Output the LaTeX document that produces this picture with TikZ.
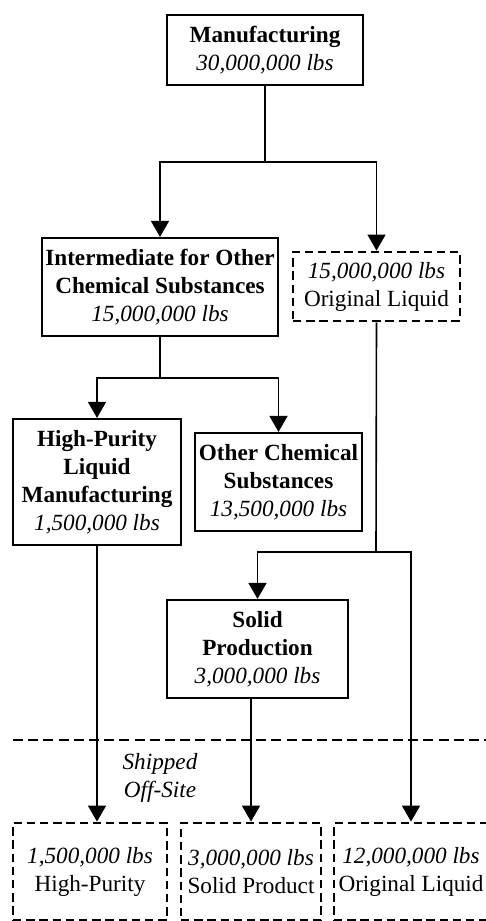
\documentclass[tikz,border=0pt]{standalone}
\usepackage{fontspec}
\setmainfont{Liberation Serif}
\usepackage{tikz}
\usetikzlibrary{arrows.meta,calc}

\begin{document}
\begin{tikzpicture}[x=0.5pt, y=-0.5pt,
    box/.style={draw, line width=1.1pt, align=center, inner sep=0pt,
      font=\fontsize{11.6}{14}\selectfont},
    dbox/.style={box, line width=1.4pt, dash pattern=on 4.2pt off 2.4pt},
    flow/.style={-{Triangle[width=9pt,length=8pt]}, line width=0.8pt},
    link/.style={line width=0.8pt}]
    \useasboundingbox (0,0) rectangle (486,921);
    % rows of the flow
    \node[box, minimum width=98pt, minimum height=35pt] (mfg) at (265,50) {\textbf{Manufacturing}\\\textit{30,000,000 lbs}};
    \node[box, minimum width=118pt, minimum height=49pt] (inter) at (160,287) {\textbf{Intermediate for Other}\\\textbf{Chemical Substances}\\\textit{15,000,000 lbs}};
    \node[dbox, minimum width=83.5pt, minimum height=34.5pt] (origliq) at (376.5,286.5) {\textit{15,000,000 lbs}\\Original Liquid};
    \node[box, minimum width=84pt, minimum height=63pt] (hpl) at (97,482) {\textbf{High-Purity}\\\textbf{Liquid}\\\textbf{Manufacturing}\\\textit{1,500,000 lbs}};
    \node[box, minimum width=83.5pt, minimum height=49pt] (other) at (278.5,482) {\textbf{Other Chemical}\\\textbf{Substances}\\\textit{13,500,000 lbs}};
    \node[box, minimum width=90.5pt, minimum height=49pt] (solid) at (257.5,649) {\textbf{Solid}\\\textbf{Production}\\\textit{3,000,000 lbs}};
    % shipped off-site
    \node[dbox, minimum width=77pt, minimum height=48.5pt] (shiphp) at (90,871.5) {\textit{1,500,000 lbs}\\High-Purity};
    \node[dbox, minimum width=70pt, minimum height=48.5pt] (shipsolid) at (251,871.5) {\textit{3,000,000 lbs}\\Solid Product};
    \node[dbox, minimum width=77pt, minimum height=48.5pt] (shipliq) at (411,871.5) {\textit{12,000,000 lbs}\\Original Liquid};
    \coordinate (sepL) at (13,740); \coordinate (sepR) at (486,740);
    \draw[line width=1.4pt, dash pattern=on 5pt off 2.6pt] (sepL) -- (sepR);
    \node[align=center, font=\fontsize{11.6}{14}\selectfont\itshape] (offsite) at (160,778) {Shipped\\Off-Site};
    % connectors
    \coordinate (j1) at (265,162); \coordinate (j2) at (160,378); \coordinate (j3) at (376,552);
    \draw[link] (mfg.south) -- (j1);
    \draw[flow] (j1) -| (inter.north); \draw[flow] (j1) -| (origliq.north);
    \draw[link] (inter.south) -- (j2);
    \draw[flow] (j2) -| (hpl.north); \draw[flow] (j2) -| (other.north);
    \draw[link] (origliq.south) -- (j3);
    \draw[flow] (j3) -| (solid.north); \draw[flow] (j3) -| (shipliq.north);
    \draw[flow] (hpl.south) -- (hpl.south |- shiphp.north);
    \draw[flow] (shipsolid.north |- solid.south) -- (shipsolid.north);
\end{tikzpicture}
\end{document}
